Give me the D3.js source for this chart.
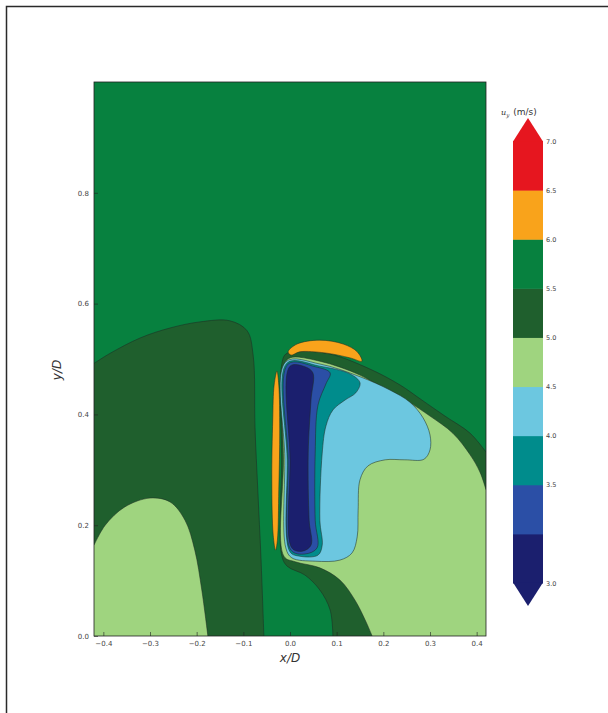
<!DOCTYPE html>
<html>
<head>
<meta charset="utf-8">
<script src="https://cdn.jsdelivr.net/npm/d3@7"></script>
<style>
  body { margin: 0; background: #fff; }
  svg { display: block; }
  text { font-family: "DejaVu Sans", sans-serif; }
</style>
</head>
<body>
<svg id="chart"></svg>
<script>
const width = 608, height = 713
const margin = {left: 94, right: 122, top: 82, bottom: 77}

// axis ticks
const xTicks = [-0.4, -0.3, -0.2, -0.1, 0.0, 0.1, 0.2, 0.3, 0.4]
const yTicks = [0.0, 0.2, 0.4, 0.6, 0.8]

// colour levels (m/s), bottom to top, and tick labels on the colour bar
const levels = [3.0, 3.25, 3.5, 4.0, 4.5, 5.0, 5.5, 6.0, 6.5, 7.0]
const cbarTicks = [3.0, 3.5, 4.0, 4.5, 5.0, 5.5, 6.0, 6.5, 7.0]
const levelColors = ["#1b1f6e", "#2b4fa6", "#008c8c", "#6cc7e0", "#9fd47f",
                     "#1f5f2d", "#07813f", "#f9a31b", "#e6161f"]

// contour regions, [x/D, y/D]
const darkLeft = [[-0.42, 0.492], [-0.386, 0.510], [-0.321, 0.538], [-0.257, 0.556], [-0.193, 0.567],
    [-0.129, 0.569], [-0.092, 0.551], [-0.079, 0.507], [-0.075, 0.377], [-0.069, 0.264],
    [-0.062, 0.137], [-0.056, 0.0]]
const darkLeftEdge = [[-0.42, 0.0]]

const lightLeft = [[-0.42, 0.164], [-0.396, 0.200], [-0.354, 0.233], [-0.300, 0.249], [-0.257, 0.242],
    [-0.225, 0.209], [-0.204, 0.155], [-0.189, 0.083], [-0.176, 0.0]]
const lightLeftEdge = [[-0.42, 0.0]]

const darkHalo = [[0.092, 0.0], [0.086, 0.047], [0.064, 0.083], [0.032, 0.110], [-0.006, 0.126],
    [-0.018, 0.146], [-0.018, 0.318], [-0.018, 0.489], [-0.009, 0.509], [0.021, 0.514],
    [0.086, 0.509], [0.171, 0.482], [0.236, 0.453], [0.279, 0.428], [0.332, 0.397],
    [0.386, 0.366], [0.42, 0.332]]
const darkHaloEdge = [[0.42, 0.0]]

const lightRight = [[0.176, 0.0], [0.161, 0.029], [0.139, 0.065], [0.107, 0.101], [0.064, 0.123],
    [0.011, 0.134], [-0.013, 0.144], [-0.014, 0.318], [-0.014, 0.487], [0.0, 0.502],
    [0.064, 0.496], [0.150, 0.471], [0.214, 0.440], [0.251, 0.424], [0.300, 0.397],
    [0.349, 0.366], [0.386, 0.327], [0.407, 0.296], [0.42, 0.264]]
const lightRightEdge = [[0.42, 0.0]]

const lightBlueCore = [[-0.009, 0.495], [0.064, 0.491], [0.150, 0.468], [0.214, 0.444], [0.257, 0.422],
    [0.285, 0.394], [0.300, 0.363], [0.300, 0.336], [0.287, 0.319], [0.246, 0.318],
    [0.204, 0.318], [0.167, 0.307], [0.150, 0.282], [0.146, 0.227], [0.144, 0.179],
    [0.133, 0.150], [0.107, 0.137], [0.054, 0.135], [0.004, 0.141], [-0.009, 0.159],
    [-0.011, 0.318]]

const tealCore = [[-0.006, 0.493], [0.064, 0.487], [0.129, 0.473], [0.150, 0.457], [0.141, 0.439],
    [0.118, 0.426], [0.092, 0.408], [0.077, 0.379], [0.069, 0.330], [0.064, 0.209],
    [0.069, 0.164], [0.060, 0.146], [0.021, 0.144], [0.0, 0.152], [-0.006, 0.318]]

const blueCore = [[-0.004, 0.491], [0.054, 0.486], [0.086, 0.475], [0.077, 0.455], [0.060, 0.417],
    [0.054, 0.330], [0.054, 0.209], [0.058, 0.159], [0.032, 0.148], [0.002, 0.155],
    [-0.004, 0.318]]

const navyCore = [[0.0, 0.487], [0.032, 0.486], [0.049, 0.475], [0.045, 0.426], [0.039, 0.330],
    [0.041, 0.209], [0.045, 0.164], [0.026, 0.153], [0.004, 0.159], [0.0, 0.318]]

const orangeArc = [[-0.004, 0.513], [0.015, 0.527], [0.064, 0.534], [0.114, 0.527], [0.144, 0.513],
    [0.154, 0.496], [0.129, 0.502], [0.075, 0.511], [0.021, 0.513], [0.002, 0.507]]

const orangeBar = [[-0.028, 0.478], [-0.024, 0.453], [-0.022, 0.372], [-0.024, 0.264], [-0.027, 0.173],
    [-0.031, 0.155], [-0.036, 0.182], [-0.039, 0.282], [-0.037, 0.390], [-0.034, 0.453]]

const svg = d3.select("svg#chart")
    .attr("width", width)
    .attr("height", height)
    .attr("viewBox", [0, 0, width, height])

const x = d3.scaleLinear().domain([-0.42, 0.42]).range([margin.left, width - margin.right])
const y = d3.scaleLinear().domain([0, 1.0]).range([height - margin.bottom, margin.top])
const color = d3.scaleOrdinal().domain(d3.range(levelColors.length)).range(levelColors)

// outer frame of the figure (only top and left visible)
svg.append("path")
    .attr("d", `M6.5,${height}V6.5H${width}`)
    .attr("fill", "none")
    .attr("stroke", "#2a2a2a")
    .attr("stroke-width", 1.5)

svg.append("clipPath").attr("id", "plot-clip")
    .append("rect")
    .attr("x", x.range()[0]).attr("y", y.range()[1])
    .attr("width", x.range()[1] - x.range()[0])
    .attr("height", y.range()[0] - y.range()[1])

const plot = svg.append("g").attr("clip-path", "url(#plot-clip)")

plot.append("rect")
    .attr("x", x.range()[0]).attr("y", y.range()[1])
    .attr("width", x.range()[1] - x.range()[0])
    .attr("height", y.range()[0] - y.range()[1])
    .attr("fill", color(6))

const openLine = d3.line().x(d => x(d[0])).y(d => y(d[1])).curve(d3.curveCatmullRom.alpha(0.5))
const closedLine = d3.line().x(d => x(d[0])).y(d => y(d[1])).curve(d3.curveCatmullRomClosed.alpha(0.5))

const regions = [
    {pts: darkLeft, edge: darkLeftEdge, c: 5},
    {pts: lightLeft, edge: lightLeftEdge, c: 4},
    {pts: darkHalo, edge: darkHaloEdge, c: 5},
    {pts: lightRight, edge: lightRightEdge, c: 4},
    {pts: orangeArc, c: 7},
    {pts: orangeBar, c: 7},
    {pts: lightBlueCore, c: 3},
    {pts: tealCore, c: 2},
    {pts: blueCore, c: 1},
    {pts: navyCore, c: 0}
]

regions.forEach(r => {
    let d, outline
    if (r.edge) {
        outline = openLine(r.pts)
        d = outline + r.edge.map(p => `L${x(p[0])},${y(p[1])}`).join("") + "Z"
    } else {
        d = closedLine(r.pts)
        outline = d
    }
    plot.append("path")
        .attr("d", d)
        .attr("fill", color(r.c))
    plot.append("path")
        .attr("d", outline)
        .attr("fill", "none")
        .attr("stroke", "#1c2a22")
        .attr("stroke-width", 0.7)
        .attr("stroke-opacity", 0.75)
})

// axes frame
svg.append("rect")
    .attr("x", x.range()[0]).attr("y", y.range()[1])
    .attr("width", x.range()[1] - x.range()[0])
    .attr("height", y.range()[0] - y.range()[1])
    .attr("fill", "none")
    .attr("stroke", "#222")
    .attr("stroke-width", 0.8)

const fmt = d3.format(".1f")
const xAxis = svg.append("g")
    .attr("transform", `translate(0,${y.range()[0]})`)
    .call(d3.axisBottom(x).tickValues(xTicks).tickSize(-4).tickPadding(5).tickFormat(d => fmt(d).replace("-", "−")))
const yAxis = svg.append("g")
    .attr("transform", `translate(${x.range()[0]},0)`)
    .call(d3.axisLeft(y).tickValues(yTicks).tickSize(-4).tickPadding(5).tickFormat(fmt))

for (const ax of [xAxis, yAxis]) {
    ax.select(".domain").remove()
    ax.selectAll(".tick line").attr("stroke", "#222").attr("stroke-width", 0.6)
    ax.selectAll(".tick text").attr("font-size", 7).attr("fill", "#444")
        .attr("font-family", "DejaVu Sans, sans-serif")
}

svg.append("text")
    .attr("x", x(0)).attr("y", 662)
    .attr("text-anchor", "middle")
    .attr("font-family", "DejaVu Serif, serif")
    .attr("font-style", "italic")
    .attr("font-size", 12)
    .attr("fill", "#333")
    .text("x/D")

svg.append("text")
    .attr("transform", `translate(61,370) rotate(-90)`)
    .attr("text-anchor", "middle")
    .attr("font-family", "DejaVu Serif, serif")
    .attr("font-style", "italic")
    .attr("font-size", 12)
    .attr("fill", "#333")
    .text("y/D")

// colour bar
const cbX = 513, cbW = 30, cbTop = 141, cbBottom = 583, tri = 23
const cb = d3.scalePoint().domain(levels).range([cbBottom, cbTop])
const cbar = svg.append("g")

cbar.selectAll("rect.band")
    .data(levels.slice(0, -1))
    .join("rect").attr("class", "band")
    .attr("x", cbX)
    .attr("y", (d, i) => cb(levels[i + 1]))
    .attr("width", cbW)
    .attr("height", (d, i) => cb(d) - cb(levels[i + 1]) + 0.5)
    .attr("fill", (d, i) => color(i))

cbar.append("path")
    .attr("d", `M${cbX},${cbTop + 0.5}L${cbX + cbW / 2},${cbTop - tri}L${cbX + cbW},${cbTop + 0.5}Z`)
    .attr("fill", color(8))
cbar.append("path")
    .attr("d", `M${cbX},${cbBottom - 0.5}L${cbX + cbW / 2},${cbBottom + tri}L${cbX + cbW},${cbBottom - 0.5}Z`)
    .attr("fill", color(0))

cbar.selectAll("text.cb")
    .data(cbarTicks)
    .join("text").attr("class", "cb")
    .attr("x", cbX + cbW + 3)
    .attr("y", d => cb(d) + 2.5)
    .attr("font-size", 6.5)
    .attr("fill", "#444")
    .text(d => fmt(d))

const cbLabel = svg.append("text")
    .attr("x", 501).attr("y", 115)
    .attr("font-size", 9)
    .attr("fill", "#333")
cbLabel.append("tspan").attr("font-style", "italic").attr("font-family", "DejaVu Serif, serif").attr("font-size", 8).text("u")
cbLabel.append("tspan").attr("dy", 2).attr("font-size", 5.5).attr("font-style", "italic").attr("font-family", "DejaVu Serif, serif").text("y")
cbLabel.append("tspan").attr("dy", -2).attr("dx", 4).text("(m/s)")
</script>
</body>
</html>
